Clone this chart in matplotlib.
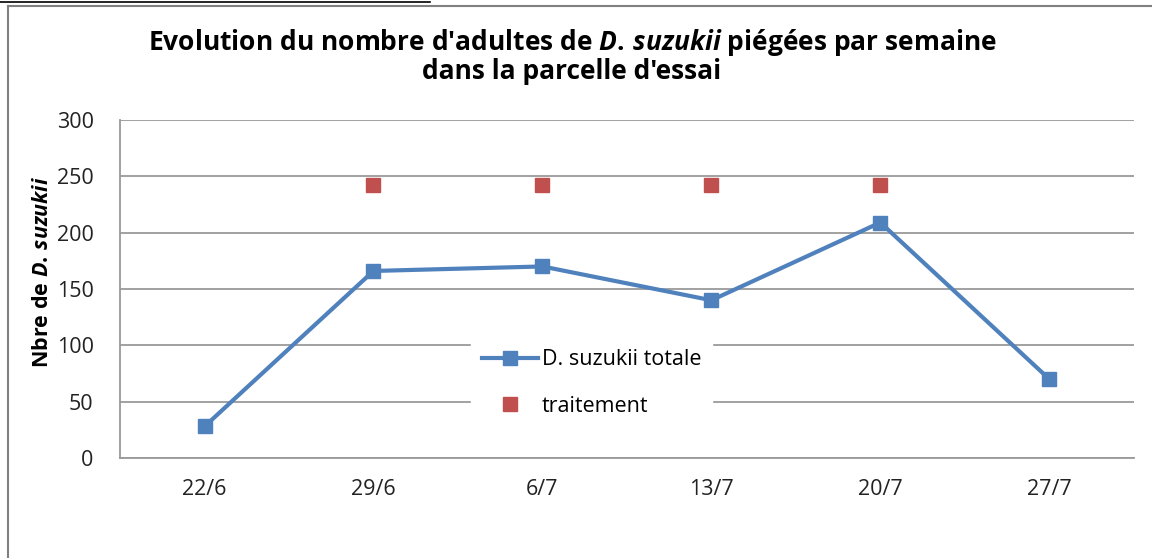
import numpy as np
import matplotlib
matplotlib.use("Agg")
import matplotlib.pyplot as plt
from matplotlib.lines import Line2D

# data
dates = ["22/6", "29/6", "6/7", "13/7", "20/7", "27/7"]
totale = [28, 166, 170, 140, 209, 70]
traitement_dates = ["29/6", "6/7", "13/7", "20/7"]
traitement = [242, 242, 242, 242]

plt.rcParams['font.family'] = ['Open Sans', 'DejaVu Sans']
plt.rcParams['mathtext.fontset'] = 'custom'
plt.rcParams['mathtext.it'] = 'Open Sans:italic:bold'
plt.rcParams['mathtext.rm'] = 'Open Sans:bold'

blue = "#4F81BD"
red = "#C0504D"
grid_col = "#9A9A9A"

fig = plt.figure(figsize=(11.52, 5.58), dpi=100)
ax = fig.add_axes([0.1042, 0.1792, 0.8800, 0.6058])

x = np.arange(len(dates))
xt = [dates.index(d) for d in traitement_dates]

ax.plot(x, totale, color=blue, lw=3, marker="s", ms=10,
        label="D. suzukii totale", zorder=3)
ax.plot(xt, traitement, color=red, lw=0, marker="s", ms=10,
        label="traitement", zorder=3)

ax.set_xlim(-0.5, len(dates) - 0.5)
ax.set_ylim(0, 300)
ax.set_yticks(np.arange(0, 301, 50))
ax.set_xticks(x)
ax.set_xticklabels(dates)
ax.yaxis.grid(True, color=grid_col, lw=1.3)
ax.set_axisbelow(True)
ax.tick_params(axis="both", length=0, labelsize=15.5, colors="#222222")
ax.tick_params(axis="x", pad=15)
ax.tick_params(axis="y", pad=19)
for s in ["top", "right"]:
    ax.spines[s].set_visible(False)
for s in ["left", "bottom"]:
    ax.spines[s].set_color(grid_col)
    ax.spines[s].set_linewidth(1.3)

fig.text(0.0365, 0.513, r"Nbre de $\mathit{D.\,suzukii}$", rotation=90,
         ha="center", va="center", fontsize=15.5, fontweight="bold")

fig.text(0.4965, 0.924,
         r"Evolution du nombre d'adultes de $\mathit{D.\,suzukii}$ piégées par semaine",
         ha="center", va="center", fontsize=19, fontweight="bold")
fig.text(0.4965, 0.871, "dans la parcelle d'essai",
         ha="center", va="center", fontsize=19, fontweight="bold")

leg = ax.legend(loc="center", bbox_to_anchor=(0.465, 0.222), frameon=True,
                fancybox=False, edgecolor="white", framealpha=1,
                fontsize=15.5, labelspacing=1.2, handlelength=2.6,
                handletextpad=0.2, borderpad=0.5)

# chart frame (left and top edges) and the cut-off line above it
fig.add_artist(Line2D([8 / 1152, 8 / 1152], [0, 1 - 6 / 558],
                      transform=fig.transFigure, color="#808080", lw=1.5))
fig.add_artist(Line2D([8 / 1152, 1], [1 - 6 / 558, 1 - 6 / 558],
                      transform=fig.transFigure, color="#808080", lw=1.5))
fig.add_artist(Line2D([0, 430 / 1152], [1 - 1.5 / 558, 1 - 1.5 / 558],
                      transform=fig.transFigure, color="black", lw=1.2))

fig.savefig("out.png", dpi=100)
